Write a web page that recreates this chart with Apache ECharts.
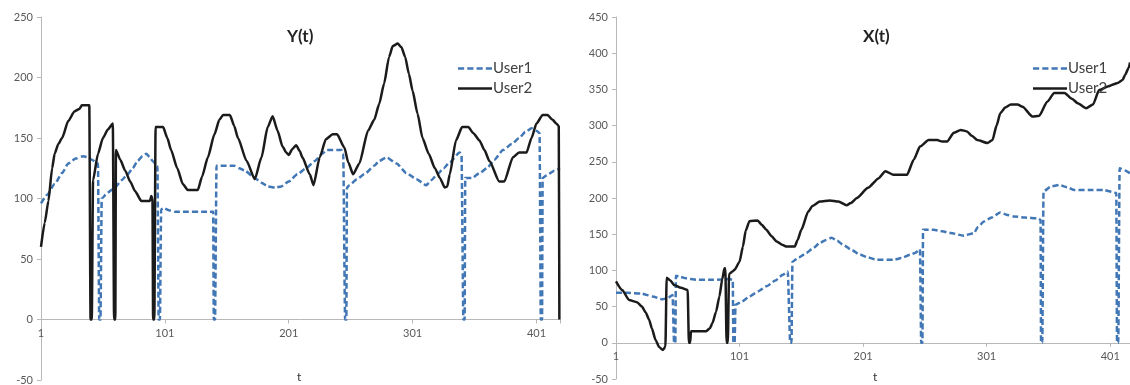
<!doctype html>
<html>
<head>
<meta charset="utf-8" />
<script src="https://cdn.jsdelivr.net/npm/echarts@6/dist/echarts.min.js"></script>
</head>
<body style="margin:0;background:#fff;">
<div id="chart" style="width:1130px;height:385px;"></div>
<script>
// [t, value] points
const yUser1 = [[1,96],[6,103],[12,112],[18,121],[23,129],[29,133],[35,135],[39,134],[42,132],[47,129],[48,0],[49,0],[50,100],[55,105],[60.6,109],[66,115],[71,120],[75,125],[79,131],[83,135],[86,137],[89,134],[91,131],[95,127],[96,0],[97,0],[98,91],[100,92],[105,90],[109,89],[140,89],[140.5,0],[141.5,0],[142.7,127],[150,127],[157,127],[161,125],[165.5,123],[173.6,117],[179,113],[184,110],[190,109],[195,110],[201,114],[208,120],[215,125],[222,131],[228,137],[232,140],[243.5,140],[245,137],[246.5,0],[247.5,0],[248,109],[250,111],[256,116],[262,120],[270,127],[274,131],[280,134],[288,129],[296,121],[304,116],[312,111],[316,115],[321,120],[326,125],[331,130],[339,138],[340.5,136],[342,0],[343,0],[343.5,117],[349,117],[355,121],[361,125],[367,132],[374,140],[381,145],[387,150],[392,155],[397,158],[401,156],[403.5,154],[404.5,0],[405.5,0],[406,117],[409,119],[415.5,123],[420,125]];
const yUser2 = [[1,60],[4,80],[7,98],[10,125],[12,137],[15,145],[18,150],[23,164],[28,172],[32,174],[34,177],[40,177],[41,0],[42,0],[43,115],[47,137],[51,150],[55,157],[59,162],[60,0],[61,0],[61.5,140],[65,132],[69,123],[73,114],[77,106],[82,98],[89,98],[90,102],[91,100],[91.5,0],[92.5,0],[93.5,159],[99.6,159],[103,150],[106,140],[111,125],[115.5,112],[119.5,107],[127.6,107],[131,118],[135.7,134],[141,153],[145,165],[148,169],[153.5,169],[157,160],[160,150],[167,131],[173.6,116],[179,134],[184,159],[188,168],[192,156],[196,143],[199,138],[201,136],[204,141],[207,144],[210,139],[212,134],[218,120],[221,111],[226,134],[231,149],[236.5,153],[240,153],[246,142],[249,130],[253,120],[258,129],[265,156],[270,165],[274,178],[278,195],[282,217],[285,226],[289,228],[292,225],[295,217],[298,203],[301,189],[305,170],[309,150],[314,137],[319,125],[323,117],[327,109],[329,110],[331,120],[336,148],[341,159],[346,159],[350,154],[355,148],[359,140],[363,131],[371,114],[375,114],[382,134],[387,138],[393,138],[397,150],[401,162],[406,169],[410,169],[414,165],[417,162],[419,160],[419.5,0]];
const xUser1 = [[1,69],[10,69],[22,68],[26,66],[30.5,64],[38.6,60],[43,62],[46.8,66],[48,0],[49,0],[49.5,92.5],[53,91],[57.7,89],[65.8,87],[80,87],[92.9,88],[95.5,87],[96,0],[97,0],[97.7,52.5],[103,57],[109,64],[116,71],[122.7,78],[130,86],[136,94],[140,98.5],[142,0],[143,0],[143.8,112],[149,118],[155,124],[160,130],[166,138],[171,142],[175.5,145],[180,141],[185,135],[192,128],[198.6,121.5],[205,118],[212,114.6],[225.6,114.6],[232,117],[239,121.5],[243,124],[247,129],[248,0],[249,0],[249.5,156],[258,156],[265,154],[272,151.5],[282.5,148],[290.7,151.5],[294,160],[298.8,167.5],[305,173],[312,180],[317,177],[323,174.5],[332,173],[342,172],[344.6,170],[345,0],[346,0],[347,209],[353,216],[359.8,218],[366,215],[372,211],[384,211],[396,211],[405.9,207],[406.5,0],[407.5,0],[408.6,241],[413,238],[417,234]];
const xUser2 = [[1,85],[6,73],[11.6,59],[18,56],[22,50],[25,42],[27.8,32],[30,20],[33,4],[36,-6],[39,-10],[41,-5],[42,90],[45,86],[48,80],[53.6,76],[59,73],[60,0],[61,0],[61.7,16],[74,16],[77,20],[79,27],[82,43],[84.7,64],[87,88],[88.8,103],[89.5,103],[90.5,0],[91.5,0],[92.5,95],[95,98],[97,101],[101,112],[103.7,133],[106,155],[109,168],[115.6,169],[119,163],[122.7,156],[127,147],[131,140],[136,135],[139,133],[145.7,133],[148,142],[151,156],[156.5,181],[160,189],[166,195],[174,196.5],[181,195],[187.7,190],[191,193],[196,200],[205,214],[213.4,227],[219,237],[225.6,232],[236.5,232],[242,253],[247,271],[254,280],[261,280],[265,278],[269,278],[274.4,290],[280,294],[285,292],[289,286],[293.4,280],[301.6,276],[305.7,280],[309,300],[312,317],[316,325],[320.5,329],[326,329],[330,326],[338,312.6],[343.5,313.5],[350,333],[355.7,345],[364,345],[370,337],[374.7,331],[381.5,324],[387,329],[392,349],[399,354],[407,359],[411,363],[413,370],[416,380],[417,387]];

const seriesNames = ['User1', 'User2'];
const xTickLabels = ['1', '101', '201', '301', '401'];

const font = 'Lato, "Open Sans", sans-serif';
const blue = '#4277b6';
const black = '#1b1b1b';
const axisGray = '#b8b8b8';
const labelGray = '#595959';

// legend keys drawn as flat paths: dashed for User1, solid for User2
const dashKey = 'path://M0,0H6V2.6H0Z M9,0H15V2.6H9Z M18,0H24V2.6H18Z M27,0H33V2.6H27Z';
const solidKey = 'path://M0,0H34V2.6H0Z';

// axis runs on t-1 so ticks fall at 0,100,... and read as 1,101,...
const shift = (pts) => pts.map(([t, v]) => [t - 1, v]);

// x axis sits on the zero line: lift it from the grid bottom by 50 units of y
function xAxisFor(gridIndex, max, lift) {
  return {
    type: 'value', gridIndex, min: 0, max, interval: 100,
    position: 'bottom', offset: -lift,
    axisLine: { onZero: false, lineStyle: { color: axisGray, width: 1 } },
    axisTick: { show: true, length: 4, lineStyle: { color: axisGray } },
    axisLabel: {
      color: labelGray, fontFamily: font, fontSize: 11, margin: 8,
      formatter: (v) => (v % 100 === 0 ? xTickLabels[v / 100] : ''),
    },
    splitLine: { show: false },
  };
}

function yAxisFor(gridIndex, max) {
  return {
    type: 'value', gridIndex, min: -50, max, interval: 50,
    axisLine: { show: true, onZero: false, lineStyle: { color: axisGray, width: 1 } },
    axisTick: { show: true, length: 4, lineStyle: { color: axisGray } },
    axisLabel: { color: labelGray, fontFamily: font, fontSize: 11, margin: 8 },
    splitLine: { show: false },
  };
}

function line(name, data, idx, dashed) {
  return {
    name, type: 'line', xAxisIndex: idx, yAxisIndex: idx,
    data: shift(data), showSymbol: false, symbol: 'none',
    smooth: 0.2, smoothMonotone: 'x',
    lineStyle: dashed
      ? { color: blue, width: 2.5, type: [6, 3] }
      : { color: black, width: 2.5 },
    itemStyle: { color: dashed ? blue : black },
    z: dashed ? 2 : 3,
  };
}

function legendAt(left) {
  return {
    left, top: 56, orient: 'vertical', itemWidth: 34, itemHeight: 3, itemGap: 5,
    data: [
      { name: seriesNames[0], icon: dashKey },
      { name: seriesNames[1], icon: solidKey },
    ],
    textStyle: { color: '#404040', fontFamily: font, fontSize: 15, padding: [0, 0, 0, -4] },
  };
}

const titleStyle = { fontFamily: font, fontSize: 17, fontWeight: 'bold', color: '#222' };
const nameStyle = { text: 't', fontFamily: font, fontSize: 12, fill: '#333', textAlign: 'center' };

const option = {
  backgroundColor: '#fff',
  animation: false,
  title: [
    { text: 'Y(t)', left: 282, top: 23, textStyle: titleStyle },
    { text: 'X(t)', left: 858, top: 23, textStyle: titleStyle },
  ],
  legend: [legendAt(453), legendAt(1028)],
  grid: [
    { left: 41, right: 570, top: 17, bottom: 5, outerBoundsMode: 'none' },
    { left: 616, right: 0, top: 17, bottom: 6, outerBoundsMode: 'none' },
  ],
  xAxis: [xAxisFor(0, 419, 60.5), xAxisFor(1, 416, 36.2)],
  yAxis: [yAxisFor(0, 250), yAxisFor(1, 450)],
  graphic: [
    { type: 'text', left: 297, top: 371, style: nameStyle },
    { type: 'text', left: 873, top: 371, style: nameStyle },
  ],
  series: [
    line('User1', yUser1, 0, true),
    line('User2', yUser2, 0, false),
    line('User1', xUser1, 1, true),
    line('User2', xUser2, 1, false),
  ],
};

const chart = echarts.init(document.getElementById('chart'));
chart.setOption(option);
</script>
</body>
</html>
